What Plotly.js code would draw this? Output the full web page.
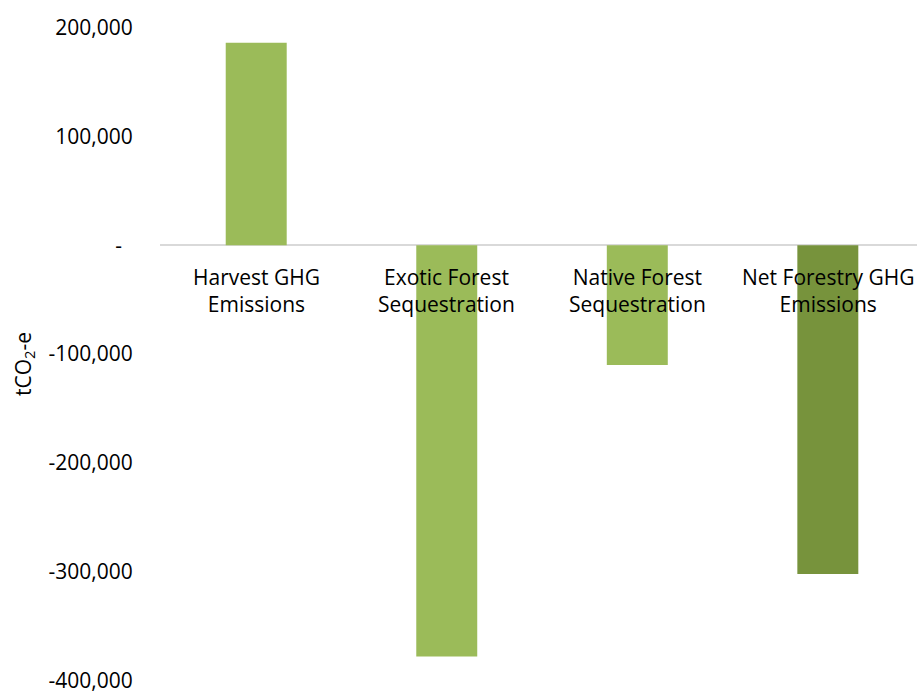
<!DOCTYPE html>
<html>
<head>
<meta charset="utf-8">
<script src="https://cdn.plot.ly/plotly-3.0.1.min.js"></script>
<style>
  html, body { margin: 0; padding: 0; background: #ffffff; }
  #chart { width: 917px; height: 691px; }
</style>
</head>
<body>
<div id="chart"></div>
<script>
// Forestry greenhouse gas balance, tonnes of CO2-equivalent
const categories = ["Harvest GHG Emissions", "Exotic Forest Sequestration", "Native Forest Sequestration", "Net Forestry GHG Emissions"];
const categoryLabels = ["Harvest GHG<br>Emissions", "Exotic Forest<br>Sequestration", "Native Forest<br>Sequestration", "Net Forestry GHG<br>Emissions"];
const values = [186000, -378000, -110000, -302000];
const barColors = ["#9bbb59", "#9bbb59", "#9bbb59", "#77933c"];

const tickValues = [200000, 100000, 0, -100000, -200000, -300000, -400000];
const tickLabels = ["200,000", "100,000", "-\u00a0\u00a0", "-100,000", "-200,000", "-300,000", "-400,000"];
const axisTitle = "tCO<sub>2</sub>-e";

const FONT = '"Open Sans", "Noto Sans", sans-serif';

const trace = {
  type: "bar",
  x: categories,
  y: values,
  marker: { color: barColors },
  width: 0.32,
  hoverinfo: "x+y"
};

// Category names sit just under the zero line
const annotations = categories.map((c, i) => ({
  x: c,
  y: 0,
  xref: "x",
  yref: "y",
  text: categoryLabels[i],
  showarrow: false,
  yanchor: "top",
  xanchor: "center",
  yshift: -16,
  font: { family: FONT, size: 21, color: "#000000" }
}));

// Vertical axis title
annotations.push({
  x: 0,
  y: 0.485,
  xref: "paper",
  yref: "paper",
  text: axisTitle,
  textangle: -90,
  showarrow: false,
  xanchor: "center",
  yanchor: "middle",
  xshift: -136,
  font: { family: FONT, size: 21, color: "#000000" }
});

const layout = {
  width: 917,
  height: 691,
  margin: { l: 160, r: 0, t: 22, b: 5, pad: 0 },
  paper_bgcolor: "#ffffff",
  plot_bgcolor: "#ffffff",
  showlegend: false,
  font: { family: FONT, size: 21, color: "#000000" },
  xaxis: {
    type: "category",
    range: [-0.505, 3.468],
    showticklabels: false,
    showgrid: false,
    zeroline: false,
    showline: false,
    ticks: ""
  },
  yaxis: {
    range: [-405000, 205000],
    tickvals: tickValues,
    ticktext: tickLabels,
    ticklabeloverflow: "allow",
    ticks: "outside",
    ticklen: 22,
    tickcolor: "rgba(0,0,0,0)",
    showgrid: false,
    showline: false,
    zeroline: true,
    zerolinecolor: "#d9d9d9",
    zerolinewidth: 2,
    tickfont: { family: FONT, size: 21, color: "#000000" }
  },
  annotations: annotations
};

Plotly.newPlot("chart", [trace], layout, { displayModeBar: false, staticPlot: true });
</script>
</body>
</html>
